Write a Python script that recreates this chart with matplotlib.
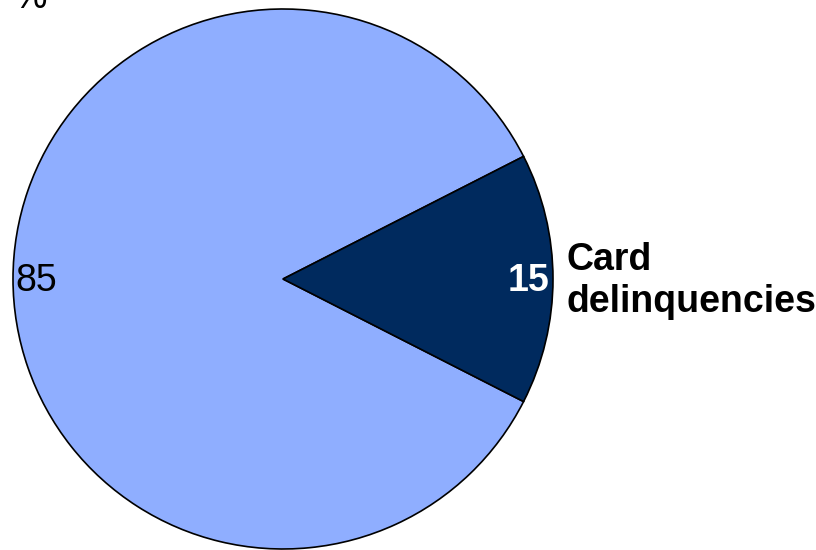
import matplotlib.pyplot as plt

plt.rcParams['font.family'] = ['Liberation Sans', 'DejaVu Sans']

# Share of card delinquencies, percent
labels = ['Other', 'Card delinquencies']
shares = [85, 15]
colors = ['#8FAEFF', '#002A5E']

W, H = 816, 550
fig = plt.figure(figsize=(W / 100, H / 100), dpi=100)
ax = fig.add_axes([0, 0, 1, 1])

cx, cy, r = 283, H - 279, 270
# the small slice is centred on the right-hand side
wedges, _ = ax.pie(shares, colors=colors, center=(cx, cy), radius=r,
                   startangle=360 * shares[1] / 100 / 2, counterclock=True,
                   wedgeprops=dict(edgecolor='black', linewidth=1.2))
ax.set_xlim(0, W)
ax.set_ylim(0, H)
ax.set_aspect('equal')
ax.axis('off')

fs = 27
ax.text(15, cy - 2, str(shares[0]), fontsize=fs, ha='left', va='center', color='black')
ax.text(549, cy - 2, str(shares[1]), fontsize=fs, ha='right', va='center',
        color='white', fontweight='bold')
ax.text(566, cy - 2, 'Card\ndelinquencies', fontsize=fs, ha='left', va='center',
        fontweight='bold', color='black', linespacing=1.22)
ax.text(14, H - 8, '%', fontsize=fs, ha='left', va='baseline', color='black')

fig.savefig('out.png', dpi=100)
